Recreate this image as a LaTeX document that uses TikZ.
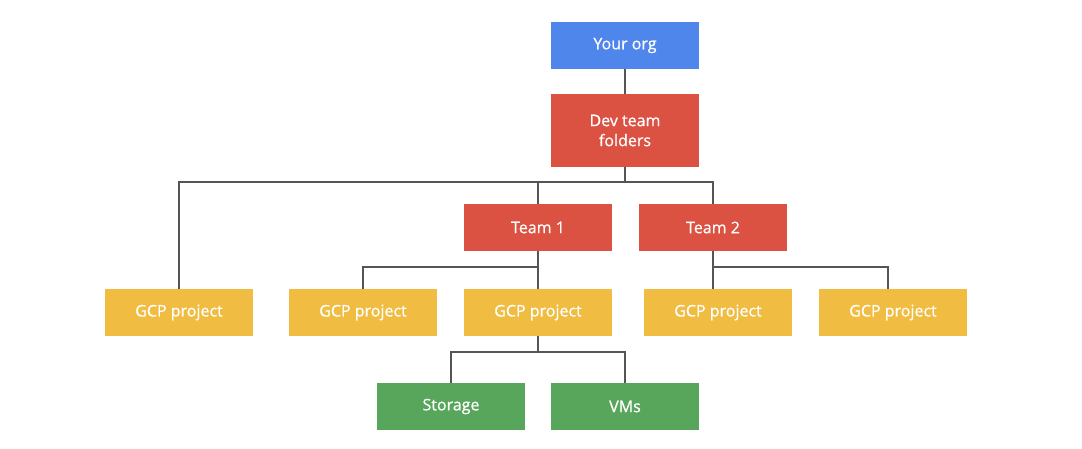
\documentclass[tikz,border=0pt]{standalone}
\usepackage{fontspec}
\setmainfont{Open Sans}
\newfontfamily\boxfont{Open Sans}[FakeBold=0.7]
\definecolor{cblue}{HTML}{4F86EC}
\definecolor{cred}{HTML}{DB5142}
\definecolor{cyellow}{HTML}{F0BD42}
\definecolor{cgreen}{HTML}{57A65B}
\definecolor{cline}{HTML}{555555}
\begin{document}
\begin{tikzpicture}[x=1pt,y=-1pt,
  box/.style={minimum width=148pt,minimum height=47pt,inner sep=0pt,text=white,font=\boxfont\fontsize{16}{20}\selectfont,align=center},
  orgbox/.style={box,fill=cblue},
  folderbox/.style={box,fill=cred},
  projbox/.style={box,fill=cyellow},
  resbox/.style={box,fill=cgreen},
  conn/.style={draw=cline,line width=1.1pt}]
\useasboundingbox (0,0) rectangle (1082,448);
\node[orgbox] (org) at (625,45.5) {Your org};
\node[folderbox,minimum height=73pt] (dev) at (625,130.5) {Dev team\\folders};
\node[folderbox] (t1) at (538,227.5) {Team 1};
\node[folderbox] (t2) at (713,227.5) {Team 2};
\node[projbox] (p1) at (179,312.5) {GCP project};
\node[projbox] (p2) at (363,312.5) {GCP project};
\node[projbox] (p3) at (538,312.5) {GCP project};
\node[projbox] (p4) at (718,312.5) {GCP project};
\node[projbox] (p5) at (893,312.5) {GCP project};
\node[resbox] (st) at (451,406.5) {Storage};
\node[resbox] (vm) at (625,406.5) {VMs};
\coordinate (b1) at (625,182);
\coordinate (b2) at (538,267);
\coordinate (b3) at (713,267);
\coordinate (b4) at (538,352);
\draw[conn] (org) -- (dev);
\draw[conn] (dev.south) -- (b1);
\draw[conn] (b1) -| (p1.north);
\draw[conn] (b1) -| (t1.north);
\draw[conn] (b1) -| (t2.north);
\draw[conn] (t1.south) -- (b2);
\draw[conn] (b2) -| (p2.north);
\draw[conn] (b2) -- (p3.north);
\draw[conn] (t2.south) -- (b3);
\draw[conn] (b3) -- (b3 |- p4.north);
\draw[conn] (b3) -| ([xshift=-5pt]p5.north);
\draw[conn] (p3.south) -- (b4);
\draw[conn] (b4) -| (st.north);
\draw[conn] (b4) -| (vm.north);
\end{tikzpicture}
\end{document}
